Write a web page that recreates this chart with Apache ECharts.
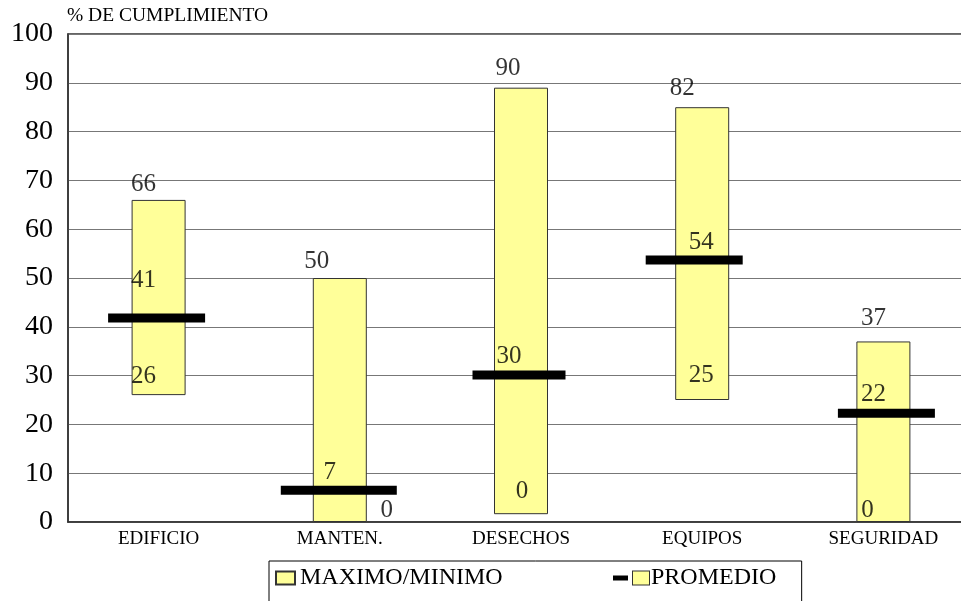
<!DOCTYPE html>
<html>
<head>
<meta charset="utf-8">
<script src="https://cdn.jsdelivr.net/npm/echarts@6/dist/echarts.min.js"></script>
<style>
  html, body { margin: 0; padding: 0; background: #fff; }
  #chart { width: 961px; height: 601px; }
</style>
</head>
<body>
<div id="chart"></div>
<script>
// data
const categories = ["EDIFICIO", "MANTEN.", "DESECHOS", "EQUIPOS", "SEGURIDAD"];
const minValues = [26, 0, 1.6, 25, 0];
const maxValues = [66, 50, 89, 85, 37];
const avgValues = [41.8, 6.5, 30.1, 53.7, 22.3];
const minLabels = ["26", "0", "0", "25", "0"];
const maxLabels = ["66", "50", "90", "82", "37"];
const avgLabels = ["41", "7", "30", "54", "22"];
const yMin = 0;
const yMax = 100;
const yStep = 10;

// label / marker placement (pixels)
const maxOffsets = [[-15, -15], [-23, -17], [-13, -19], [-20, -19], [-10, -23]];
const minOffsets = [[-15, -19], [47, -12], [1, -23], [-1, -25], [-16, -12]];
const avgLabelOffsets = [[-15, -38], [-10, -18], [-12, -19], [-1, -18], [-10, -19]];
const avgShift = [-2, -1, -2, -8, 3];
const avgWidth = [97, 116, 93, 97, 97];

const FONT = "Liberation Serif";
const YELLOW = "#ffff99";

const el = echarts.init(document.getElementById("chart"));

function labelSeries(values, texts, offsets) {
  return {
    type: "scatter",
    symbol: "rect",
    symbolSize: 1,
    silent: true,
    z: 10,
    itemStyle: { color: "rgba(0,0,0,0)" },
    label: {
      show: true,
      position: "inside",
      fontFamily: FONT,
      fontSize: 25,
      color: "#000",
      formatter: function (p) {
        return texts[p.dataIndex];
      },
    },
    data: values.map(function (v, i) {
      return { value: v, label: { offset: offsets[i] } };
    }),
  };
}

const options = {
  animation: false,
  title: {
    text: "% DE CUMPLIMIENTO",
    left: 67,
    top: 6,
    padding: 0,
    textStyle: { fontFamily: FONT, fontSize: 19.5, fontWeight: "normal", color: "#000" },
  },
  legend: [
    {
      data: ["MAXIMO/MINIMO"],
      left: 269,
      top: 561,
      orient: "horizontal",
      padding: [5, 299, 40, 6],
      borderColor: "#000",
      borderWidth: 1,
      itemWidth: 19,
      itemHeight: 13,
      icon: "rect",
      textStyle: { fontFamily: FONT, fontSize: 24, color: "#000" },
    },
    {
      data: ["PROMEDIO"],
      left: 613,
      top: 566,
      padding: 0,
      itemWidth: 15,
      itemHeight: 5,
      icon: "rect",
      formatter: function (name) {
        return "{box|}{t|" + name + "}";
      },
      textStyle: {
        fontFamily: FONT,
        fontSize: 24,
        color: "#000",
        rich: {
          box: {
            width: 16,
            height: 13,
            backgroundColor: YELLOW,
            borderColor: "#333",
            borderWidth: 1,
          },
          t: { fontFamily: FONT, fontSize: 24, color: "#000", padding: [0, 0, 0, 2] },
        },
      },
    },
  ],
  grid: {
    left: 68,
    top: 34,
    right: -13,
    bottom: 79,
    outerBoundsMode: "none",
    show: true,
    borderColor: "#333",
    borderWidth: 1.5,
  },
  xAxis: {
    type: "category",
    data: categories,
    axisTick: { show: false },
    axisLine: { lineStyle: { color: "#333", width: 1.5 } },
    axisLabel: { fontFamily: FONT, fontSize: 19, color: "#000", margin: 8 },
  },
  yAxis: {
    type: "value",
    min: yMin,
    max: yMax,
    interval: yStep,
    axisTick: { show: false },
    axisLine: { show: true, lineStyle: { color: "#333", width: 1.5 } },
    axisLabel: { fontFamily: FONT, fontSize: 28, color: "#000", margin: 15 },
    splitLine: { lineStyle: { color: "#777", width: 1 } },
  },
  series: [
    {
      name: "base",
      type: "bar",
      stack: "range",
      barWidth: 54,
      silent: true,
      itemStyle: { color: "rgba(0,0,0,0)" },
      data: minValues,
    },
    {
      name: "MAXIMO/MINIMO",
      type: "bar",
      stack: "range",
      barWidth: 54,
      itemStyle: { color: YELLOW, borderColor: "#333", borderWidth: 1 },
      data: maxValues.map(function (v, i) {
        return +(v - minValues[i]).toFixed(2);
      }),
    },
    {
      name: "PROMEDIO",
      type: "scatter",
      symbol: "rect",
      z: 5,
      itemStyle: { color: "#000", opacity: 1 },
      data: avgValues.map(function (v, i) {
        return { value: v, symbolSize: [avgWidth[i], 9], symbolOffset: [avgShift[i], 0] };
      }),
    },
    labelSeries(maxValues, maxLabels, maxOffsets),
    labelSeries(minValues, minLabels, minOffsets),
    labelSeries(avgValues, avgLabels, avgLabelOffsets),
  ],
};

el.setOption(options);

window.addEventListener("resize", () => {
  el.resize();
});
</script>
</body>
</html>
